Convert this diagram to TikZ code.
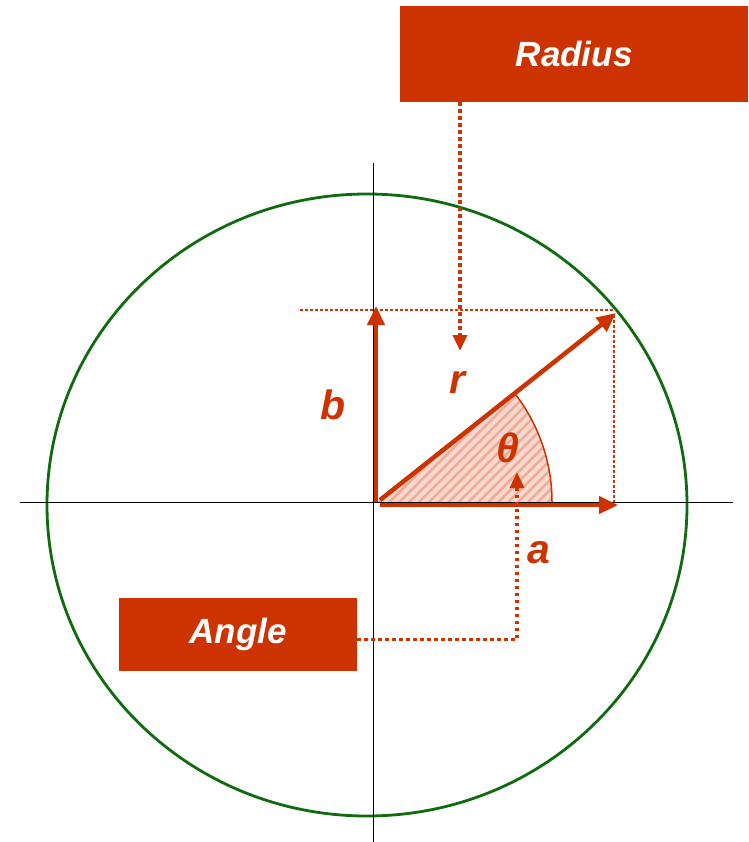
\documentclass[tikz,border=0pt]{standalone}
\usepackage{fontspec}
\setmainfont{Liberation Sans}
\usetikzlibrary{arrows.meta,patterns.meta,shapes.geometric}
\definecolor{rust}{RGB}{204,51,0}
\definecolor{cgreen}{RGB}{16,106,16}
\definecolor{hatch}{RGB}{240,170,150}
\tikzset{
  box/.style={fill=rust,text=white,font=\fontsize{35}{38}\selectfont\bfseries\itshape,inner sep=0pt,anchor=north west},
  vec/.style={draw=rust,line width=4.5pt,-{Triangle[length=19pt,width=17pt]}},
  conn/.style={draw=rust,line width=3.5pt,dash pattern=on 3.5pt off 3.5pt,-{Triangle[length=16pt,width=14pt]}},
  guide/.style={draw=rust,line width=2pt,dash pattern=on 2.5pt off 2.5pt},
  lbl/.style={text=rust,font=\fontsize{41}{44}\selectfont\bfseries\itshape,inner sep=0pt},
  axis/.style={draw=black,line width=1pt}
}
\begin{document}
\begin{tikzpicture}[x=1pt,y=-1pt]
\useasboundingbox (0,0) rectangle (748,842);
% sector
\coordinate (O) at (375,502);
\fill[hatch!45] (O) -- ++(0:177) arc[start angle=0,end angle=-37.8,radius=177] -- cycle;
\fill[pattern={Lines[angle=45,distance=7pt,line width=2.5pt]},pattern color=hatch] (O) -- ++(0:177) arc[start angle=0,end angle=-37.8,radius=177] -- cycle;
\draw[rust,line width=1.5pt] (552,502) arc[start angle=0,end angle=-37.8,radius=177];
% circle
\node[draw=cgreen,line width=2.8pt,ellipse,minimum width=640pt,minimum height=622pt,inner sep=0pt] (circ) at (367,505) {};
% axes
\coordinate (xl) at (20,502); \coordinate (xr) at (733,502);
\coordinate (yt) at (373,163); \coordinate (yb) at (373,842);
\draw[axis] (xl) -- (xr);
\draw[axis] (yt) -- (yb);
% guides
\coordinate (P) at (616,313);
\coordinate (gl) at (300,310); \coordinate (gr) at (616,310);
\coordinate (gb) at (614,502);
\draw[guide] (gl) -- (gr);
\draw[guide] (614,315) -- (gb);
% vectors
\coordinate (r0) at (380,500);
\coordinate (a0) at (380,505); \coordinate (a1) at (618,505);
\coordinate (b0) at (376,502); \coordinate (b1) at (376,306);
\draw[vec] (r0) -- (P);
\draw[vec] (a0) -- (a1);
\draw[vec] (b0) -- (b1);
% boxes
\node[box,minimum width=348pt,minimum height=96pt] (radius) at (400,6) {Radius};
\node[box,minimum width=238pt,minimum height=73pt] (angle) at (119,598) {Angle};
% connectors
\coordinate (rtip) at (460,351);
\coordinate (atip) at (517,472);
\draw[conn] ([yshift=-5pt]angle.east) -| (atip);
\draw[conn] (radius.south -| rtip) -- (rtip);
% labels
\node[lbl] (lr) at (457,382) {r};
\node[lbl] (lb) at (333,405) {b};
\node[lbl] (lt) at (508,448) {θ};
\node[lbl] (la) at (539,553) {a};
\end{tikzpicture}
\end{document}
